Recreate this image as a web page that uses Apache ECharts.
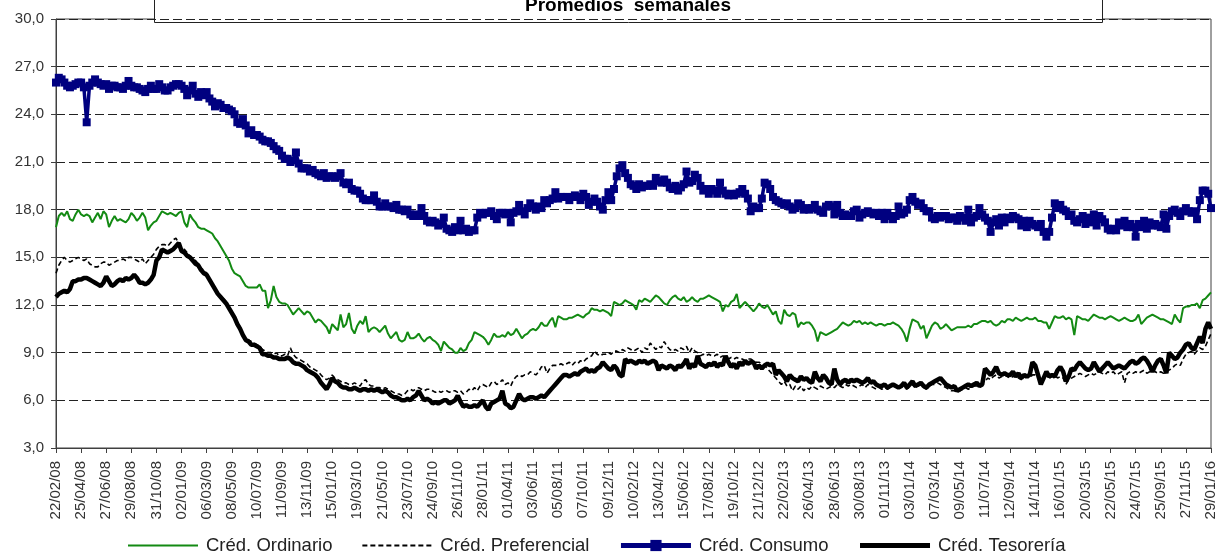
<!DOCTYPE html>
<html>
<head>
<meta charset="utf-8">
<script src="https://cdn.jsdelivr.net/npm/echarts@6/dist/echarts.min.js"></script>
<style>
html,body{margin:0;padding:0;background:#fff;}
#chart{width:1219px;height:554px;}
</style>
</head>
<body>
<div id="chart"></div>
<script>
// Weekly dates: first week 22/02/2008, 415 weeks
var startDate = [2008, 1, 22];
var weekCount = 415;
var titleText = 'Promedios  semanales';
var seriesNames = ['Créd. Ordinario', 'Créd. Preferencial', 'Créd. Consumo', 'Créd. Tesorería'];
var yTicks = [3, 6, 9, 12, 15, 18, 21, 24, 27, 30];

var ordinario = [
16.9,17.6,17.8,17.6,17.9,17.4,17.3,17.7,18.0,
17.7,17.6,17.7,17.6,17.2,17.5,17.8,17.4,17.9,
17.7,16.9,17.3,17.6,17.3,17.4,17.3,17.2,17.4,
17.8,17.6,17.3,17.5,17.8,17.5,16.7,17.0,17.2,
17.3,17.6,17.9,17.8,17.7,17.8,17.7,17.6,17.8,
17.9,17.2,16.9,17.7,17.4,17.2,16.9,16.8,16.8,
16.7,16.6,16.5,16.2,16.0,15.7,15.4,15.1,14.8,
14.3,14.0,13.9,13.8,13.5,13.2,13.1,13.1,13.1,
13.1,13.3,12.9,12.9,11.8,12.3,13.2,12.5,12.2,
12.1,12.1,12.0,11.7,11.4,11.6,11.8,11.6,11.4,
11.6,11.5,11.2,10.9,11.1,11.0,10.8,10.6,10.2,
10.8,10.6,10.4,11.4,10.6,10.8,11.5,10.5,10.2,
10.7,11.0,10.8,11.3,10.3,10.5,10.6,10.5,10.3,
10.5,10.7,10.2,9.9,10.1,10.3,9.8,9.7,9.8,
10.3,9.9,9.9,10.0,10.2,9.9,9.7,9.9,10.0,
9.8,9.7,9.5,9.1,9.7,9.5,9.3,9.2,9.0,
9.0,9.3,9.1,9.2,9.6,9.8,10.3,10.2,10.1,
10.0,9.8,9.5,9.8,10.2,10.0,10.0,10.1,10.0,
10.3,10.1,10.2,10.5,10.2,9.9,10.1,10.2,10.4,
10.5,10.4,10.6,10.9,10.7,10.7,11.0,11.2,10.6,
11.3,11.2,11.1,11.1,11.2,11.2,11.3,11.4,11.3,
11.2,11.4,11.5,11.8,11.7,11.7,11.6,11.7,11.6,
11.5,11.3,12.2,12.1,12.0,12.1,12.3,12.2,12.1,
12.0,11.7,12.3,12.2,12.4,12.3,12.2,12.4,12.6,
12.5,12.3,12.1,12.0,12.3,12.5,12.6,12.4,12.3,
12.5,12.2,12.3,12.5,12.3,12.2,12.4,12.4,12.5,
12.6,12.5,12.4,12.3,12.2,11.6,12.0,11.9,12.2,
12.3,12.7,11.8,12.0,12.2,12.0,11.8,11.6,11.8,
12.1,11.9,11.8,12.0,11.7,11.4,11.6,11.0,10.8,
11.7,11.4,11.3,11.5,11.4,10.6,10.9,10.8,10.9,
10.9,10.7,10.4,9.7,10.3,10.2,10.1,10.2,10.3,
10.4,10.5,10.7,10.9,10.8,10.7,10.8,11.0,10.9,
11.0,10.8,10.9,10.8,10.9,10.8,10.7,10.8,10.8,
10.7,10.8,10.8,10.9,10.8,10.7,10.5,10.2,9.7,
10.5,11.1,11.0,10.9,10.5,10.7,9.9,10.3,10.7,
10.9,10.8,10.5,10.6,10.8,10.6,10.4,10.5,10.6,
10.6,10.6,10.6,10.7,10.6,10.8,10.8,10.9,11.0,
11.0,10.9,11.0,10.8,10.7,10.8,11.0,10.9,11.1,
11.1,11.0,11.2,11.1,11.0,11.1,11.2,11.1,11.1,
11.2,11.0,11.0,10.9,10.9,10.5,10.9,11.3,11.2,
11.2,11.3,11.1,11.2,11.1,10.1,11.3,11.2,11.1,
11.1,11.0,11.2,11.4,11.3,11.2,11.2,11.1,11.2,
11.3,11.2,11.1,11.0,11.1,11.2,11.1,11.0,11.0,
11.1,11.4,10.8,11.0,11.2,11.3,11.4,11.3,11.2,
11.1,11.1,11.0,10.9,10.8,11.4,11.1,10.9,11.8,
11.9,11.9,12.0,12.0,12.1,11.8,12.3,12.4,12.6,
12.8
];

var preferencial = [
14.0,14.5,14.8,15.0,14.8,14.7,14.8,14.9,15.0,
14.9,14.8,14.9,14.6,14.5,14.4,14.4,14.6,14.7,
14.7,14.5,14.6,14.7,14.8,14.8,14.9,14.8,15.0,
15.0,14.9,14.8,14.7,14.9,14.6,14.8,15.0,15.2,
15.5,15.7,15.8,15.8,15.7,15.9,16.1,16.2,15.9,
15.6,15.5,15.3,15.1,14.9,14.8,14.6,14.3,14.2,
14.0,13.7,13.4,13.1,12.8,12.6,12.4,12.2,11.9,
11.6,11.3,10.9,10.6,10.2,9.9,9.8,9.7,9.6,
9.5,9.4,9.2,9.1,9.0,9.0,8.9,9.0,8.8,
8.8,8.9,8.8,9.3,8.9,8.7,8.6,8.5,8.4,
8.3,8.1,8.0,7.9,7.8,7.6,7.4,7.3,7.4,
7.6,7.4,7.3,7.2,7.1,7.1,7.0,7.0,7.1,
7.0,6.9,7.2,7.3,7.0,6.9,6.9,6.8,6.8,
6.7,6.8,6.7,6.6,6.5,6.4,6.4,6.3,6.4,
6.6,6.7,6.6,6.7,6.8,6.7,6.6,6.7,6.7,
6.6,6.5,6.6,6.5,6.6,6.6,6.5,6.6,6.6,
6.5,6.6,6.4,6.5,6.7,6.6,6.8,6.6,6.9,
7.0,6.9,6.8,7.1,7.2,7.0,7.1,7.3,7.0,
7.1,6.9,7.3,7.5,7.6,7.5,7.6,7.6,7.8,
7.7,7.6,7.8,8.1,8.2,7.7,8.0,8.2,8.2,
8.2,8.3,8.2,8.3,8.4,8.2,8.4,8.3,8.5,
8.4,8.6,8.7,8.8,9.1,8.9,8.8,8.9,8.9,
9.0,8.9,9.1,9.1,9.0,9.2,9.1,9.3,9.2,
9.1,9.2,9.3,9.0,9.3,9.2,9.6,9.4,9.2,
9.4,9.3,9.7,9.4,9.2,9.1,9.2,9.1,9.3,
9.2,9.4,9.0,9.3,9.1,9.0,8.8,8.9,8.8,
8.9,8.8,8.8,8.9,8.7,8.8,8.7,8.6,8.7,
8.6,8.7,8.6,8.6,8.5,8.6,8.6,8.5,8.4,
8.4,8.3,8.2,8.0,7.8,7.6,7.4,7.2,7.0,
7.2,6.9,7.0,6.6,6.9,6.7,6.9,6.6,6.8,
6.7,6.9,6.8,6.7,6.9,6.8,6.7,6.8,6.9,
6.8,7.0,6.9,6.8,7.0,6.9,7.0,6.9,6.8,
6.9,7.0,6.8,7.0,6.9,6.8,6.7,6.8,6.7,
6.8,6.7,6.8,6.9,7.0,6.8,6.9,6.8,6.7,
6.9,7.0,6.8,6.9,7.0,6.8,6.7,6.9,7.0,
7.0,7.1,7.0,6.9,6.8,6.7,6.6,6.6,6.5,
6.6,6.7,6.8,6.7,6.8,6.9,6.9,7.0,7.1,
7.2,7.4,7.3,7.5,7.6,7.4,7.5,7.6,7.5,
7.4,7.5,7.6,7.4,7.3,7.4,7.5,7.4,7.6,
7.6,7.4,7.3,7.5,7.6,7.4,7.5,7.6,7.4,
7.5,7.4,7.0,7.3,7.4,7.5,7.6,7.7,7.6,
7.5,7.6,7.7,7.6,7.7,7.8,7.7,7.6,7.8,
7.7,7.8,7.6,7.7,7.8,7.1,7.7,7.8,7.7,
7.8,7.7,7.8,7.9,7.7,7.8,7.9,7.8,7.7,
7.8,7.7,7.8,7.9,8.0,8.2,8.3,8.2,8.6,
8.9,9.0,9.1,8.9,9.1,9.3,9.2,9.4,9.8,
10.2
];

var consumo = [
26.0,26.3,26.2,26.0,25.8,25.7,25.8,25.9,26.0,
26.0,25.7,23.5,25.8,26.0,26.2,26.0,25.9,25.8,
25.9,25.6,25.8,25.8,25.7,25.7,25.6,25.8,26.1,
25.8,25.7,25.7,25.6,25.5,25.4,25.6,25.8,25.6,
25.6,25.9,25.7,25.5,25.5,25.7,25.8,25.9,25.9,
25.8,25.6,25.2,25.5,25.8,25.3,25.1,25.4,25.2,
25.4,25.0,24.8,24.5,24.7,24.6,24.4,24.4,24.3,
24.2,24.0,23.5,23.4,23.7,23.3,22.8,23.0,22.7,
22.7,22.6,22.4,22.3,22.3,22.2,22.0,21.8,21.7,
21.4,21.2,21.2,21.0,21.1,21.6,20.9,20.6,20.6,
20.6,20.4,20.5,20.3,20.2,20.1,20.3,20.0,20.1,
20.1,20.0,20.1,20.3,19.7,19.6,19.7,19.3,19.2,
19.2,19.0,18.7,18.6,18.6,18.6,18.9,18.5,18.2,
18.2,18.4,18.2,18.2,18.1,18.3,18.0,18.0,17.9,
18.0,17.7,17.6,17.7,17.6,18.1,17.6,17.3,17.2,
17.3,17.2,17.0,17.1,17.5,16.8,16.7,16.6,16.9,
16.7,17.3,16.7,16.8,16.6,16.7,16.7,17.5,17.8,
17.7,17.8,17.8,17.9,17.6,17.4,17.8,17.8,17.7,
17.8,17.2,17.8,17.9,18.3,17.9,17.7,18.1,18.4,
18.2,18.0,18.2,18.1,18.6,18.4,18.6,18.7,19.1,
18.7,18.8,18.8,18.8,18.6,18.8,18.9,18.8,18.6,
19.0,18.8,18.3,18.5,18.7,18.5,18.2,18.0,18.6,
19.1,18.6,19.3,20.1,20.6,20.8,20.3,20.0,19.6,
19.5,19.3,19.6,19.4,19.5,19.5,19.6,19.5,20.0,
19.8,19.7,19.9,19.7,19.4,19.3,19.5,19.2,19.4,
19.6,20.4,19.7,19.8,20.2,20.0,19.5,19.2,19.3,
19.0,19.3,19.2,19.0,19.7,19.2,19.0,18.9,19.0,
18.9,19.0,19.1,19.3,19.0,18.7,17.9,18.2,18.1,
18.1,18.7,19.7,19.6,19.3,18.8,18.6,18.5,18.4,
18.3,18.4,18.2,18.0,18.1,18.4,18.3,18.0,18.1,
18.0,18.1,18.3,18.0,17.9,17.8,18.2,18.3,18.2,
17.7,18.3,17.8,17.6,17.7,17.6,17.6,17.9,18.0,
17.5,17.7,17.8,17.9,17.8,17.7,17.8,17.6,17.8,
17.4,17.8,17.6,17.4,17.6,18.2,17.7,17.8,18.0,
18.6,18.8,18.5,18.3,18.4,18.1,17.9,17.9,17.5,
17.4,17.6,17.5,17.6,17.6,17.4,17.5,17.5,17.3,
17.6,17.5,17.3,18.0,17.2,17.5,17.6,18.1,17.7,
17.5,17.3,16.6,17.2,17.4,17.0,17.5,17.2,17.5,
17.4,17.6,17.5,17.4,17.0,17.3,16.9,17.3,17.1,
17.0,16.9,17.1,16.6,16.3,16.6,17.5,18.4,18.1,
18.3,18.0,17.9,17.6,17.7,17.3,17.2,17.4,17.6,
17.1,17.5,17.2,17.7,17.0,17.6,17.4,17.2,16.8,
16.7,16.8,16.7,17.2,17.0,17.3,16.9,17.1,16.9,
16.3,17.1,16.9,17.3,16.8,17.2,17.0,17.1,17.0,
16.9,17.7,16.8,17.6,17.9,18.0,17.8,17.6,17.9,
18.1,17.9,17.8,17.9,17.4,18.6,19.2,19.2,19.0,
18.1
];

var tesoreria = [
12.5,12.7,12.8,12.9,12.8,13.0,13.5,13.5,13.6,
13.6,13.7,13.7,13.6,13.5,13.4,13.3,13.2,13.4,
13.8,13.5,13.2,13.3,13.5,13.6,13.5,13.7,13.6,
13.7,13.9,13.7,13.4,13.4,13.3,13.4,13.6,13.9,
14.8,15.0,15.5,15.4,15.3,15.4,15.5,15.7,15.9,
15.4,15.3,15.1,15.0,14.8,14.6,14.5,14.2,14.0,
13.9,13.6,13.3,13.0,12.7,12.5,12.3,12.1,11.8,
11.5,11.2,10.8,10.5,10.1,9.8,9.7,9.5,9.5,
9.4,9.3,8.9,8.9,8.8,8.8,8.7,8.7,8.6,
8.6,8.6,8.7,8.6,8.4,8.3,8.3,8.2,8.1,
7.9,7.8,7.7,7.6,7.4,7.1,6.9,6.7,7.0,
7.4,7.2,7.1,6.9,6.8,6.8,6.7,6.7,6.8,
6.7,6.6,6.7,6.7,6.6,6.7,6.6,6.7,6.6,
6.5,6.6,6.5,6.3,6.2,6.2,6.1,6.0,6.0,
6.1,6.0,6.2,6.3,6.6,6.3,6.0,6.1,6.0,
5.8,5.9,5.8,5.9,6.0,6.0,5.8,5.9,6.0,
6.3,5.9,5.6,5.7,5.6,5.6,5.7,5.6,5.8,
6.0,5.6,5.4,5.8,5.9,6.0,6.1,6.6,5.8,
5.7,5.5,5.6,6.0,6.4,6.1,6.0,6.1,6.2,
6.2,6.1,6.2,6.3,6.2,6.4,6.6,6.8,7.0,
7.2,7.4,7.6,7.6,7.5,7.6,7.7,7.6,7.8,
7.9,8.0,7.8,7.9,7.8,8.0,8.1,8.4,8.2,
8.0,7.9,8.2,8.0,7.6,7.5,8.6,8.4,8.5,
8.4,8.3,8.5,8.4,8.5,8.3,8.4,8.5,8.4,
7.9,8.2,8.1,8.0,8.2,8.1,7.9,8.2,8.1,
8.3,8.6,8.0,8.3,8.1,8.8,8.3,8.2,8.1,
8.3,8.2,8.4,8.1,8.3,8.2,8.8,8.4,8.1,
8.3,8.0,8.4,8.2,8.5,8.3,8.4,8.4,8.0,
8.2,8.0,8.2,8.3,8.2,8.3,7.6,7.9,7.7,
7.5,7.2,7.6,7.4,7.3,7.2,7.5,7.3,7.4,
7.2,7.1,7.8,7.4,7.2,7.6,7.4,7.1,7.0,
8.0,7.3,7.0,7.2,7.3,7.1,7.3,7.2,7.3,
7.2,7.1,7.2,7.4,7.1,7.2,7.0,6.9,6.9,
7.0,6.8,6.9,7.0,6.9,6.8,6.9,7.1,6.8,
7.0,7.2,6.9,7.0,7.1,6.9,6.8,7.0,7.1,
7.2,7.3,7.4,7.2,7.0,6.9,6.8,6.9,6.6,
6.7,6.8,6.9,7.0,6.9,7.0,7.1,6.9,7.0,
8.0,7.8,7.6,7.8,8.1,7.7,7.6,7.7,7.6,
7.6,7.8,7.5,7.7,7.4,7.6,7.5,7.6,8.4,
8.2,7.6,7.0,7.4,7.8,7.5,7.6,7.5,7.9,
8.1,7.8,7.2,7.5,8.0,7.9,8.2,8.4,8.2,
8.0,7.9,8.0,8.4,8.1,7.8,8.0,8.2,8.4,
8.2,8.0,8.1,8.2,8.1,8.0,8.2,8.4,8.5,
8.3,8.4,8.6,8.7,8.5,8.2,7.8,8.2,8.5,
8.6,8.2,7.7,9.0,8.8,8.6,8.7,9.0,9.2,
9.5,9.6,9.3,9.2,9.6,10.0,9.6,10.5,10.9,
10.5
];

function pad(n){ return (n < 10 ? '0' : '') + n; }
var categories = [];
for (var i = 0; i < weekCount; i++) {
  var d = new Date(Date.UTC(startDate[0], startDate[1], startDate[2] + 7 * i));
  categories.push(pad(d.getUTCDate()) + '/' + pad(d.getUTCMonth() + 1) + '/' + pad(d.getUTCFullYear() % 100));
}

var FONT = '"Liberation Sans", Arial, sans-serif';
var chart = echarts.init(document.getElementById('chart'), null, {renderer: 'canvas'});
chart.setOption({
  animation: false,
  backgroundColor: '#ffffff',
  grid: {left: 56, right: 8, top: 19, bottom: 106, show: true, borderColor: '#404040', borderWidth: 1, backgroundColor: 'transparent'},
  legend: {
    bottom: -1, left: 127, padding: [0, 0, 0, 0], itemWidth: 70, itemHeight: 14, itemGap: 29,
    itemStyle: {opacity: 0},
    data: [
      {name: seriesNames[0], lineStyle: {width: 2}},
      {name: seriesNames[1], lineStyle: {width: 1.8}},
      {name: seriesNames[2], itemStyle: {opacity: 1}, lineStyle: {width: 5}},
      {name: seriesNames[3], lineStyle: {width: 5}}
    ],
    textStyle: {fontFamily: FONT, fontSize: 18.5, color: '#222', padding: [0, 0, 0, 3]}
  },
  xAxis: {
    type: 'category', data: categories, boundaryGap: false,
    axisLine: {lineStyle: {color: '#404040', width: 1}},
    axisTick: {show: true, interval: 8, length: 5, inside: false, lineStyle: {color: '#404040'}},
    axisLabel: {interval: 8, rotate: 90, margin: 13, fontFamily: FONT, fontSize: 15, color: '#333'},
    splitLine: {show: false}
  },
  yAxis: {
    type: 'value', min: 3, max: 30, interval: 3,
    axisLine: {show: true, lineStyle: {color: '#404040', width: 1}},
    axisTick: {show: true, length: 5, lineStyle: {color: '#404040'}},
    axisLabel: {margin: 12, fontFamily: FONT, fontSize: 15, color: '#333',
      formatter: function (v) { return v.toFixed(1).replace('.', ','); }},
    splitLine: {show: true, lineStyle: {color: '#222', width: 1, type: [9, 4]}}
  },
  series: [
    {name: seriesNames[0], type: 'line', data: ordinario, symbol: 'none',
      lineStyle: {color: '#138a13', width: 2}, itemStyle: {color: '#138a13'}, z: 2},
    {name: seriesNames[1], type: 'line', data: preferencial, symbol: 'none',
      lineStyle: {color: '#000', width: 1.6, type: [5, 3]}, itemStyle: {color: '#000'}, z: 3},
    {name: seriesNames[2], type: 'line', data: consumo, symbol: 'rect', symbolSize: 8,
      showSymbol: true, showAllSymbol: true,
      lineStyle: {color: '#000080', width: 3.5}, itemStyle: {color: '#000080', borderWidth: 0}, z: 4},
    {name: seriesNames[3], type: 'line', data: tesoreria, symbol: 'none',
      lineStyle: {color: '#000', width: 4.5}, itemStyle: {color: '#000'}, z: 5}
  ],
  graphic: [
    {type: 'group', z: 100, children: [
      {type: 'rect', shape: {x: 154.5, y: -10, width: 948, height: 32.5},
        style: {fill: '#fff', stroke: '#222', lineWidth: 1}},
      {type: 'text', x: 628, y: 6,
        style: {text: titleText, fill: '#000', font: 'bold 19px "Liberation Sans", Arial, sans-serif',
          textAlign: 'center', textVerticalAlign: 'middle'}}
    ]}
  ]
});
</script>
</body>
</html>
